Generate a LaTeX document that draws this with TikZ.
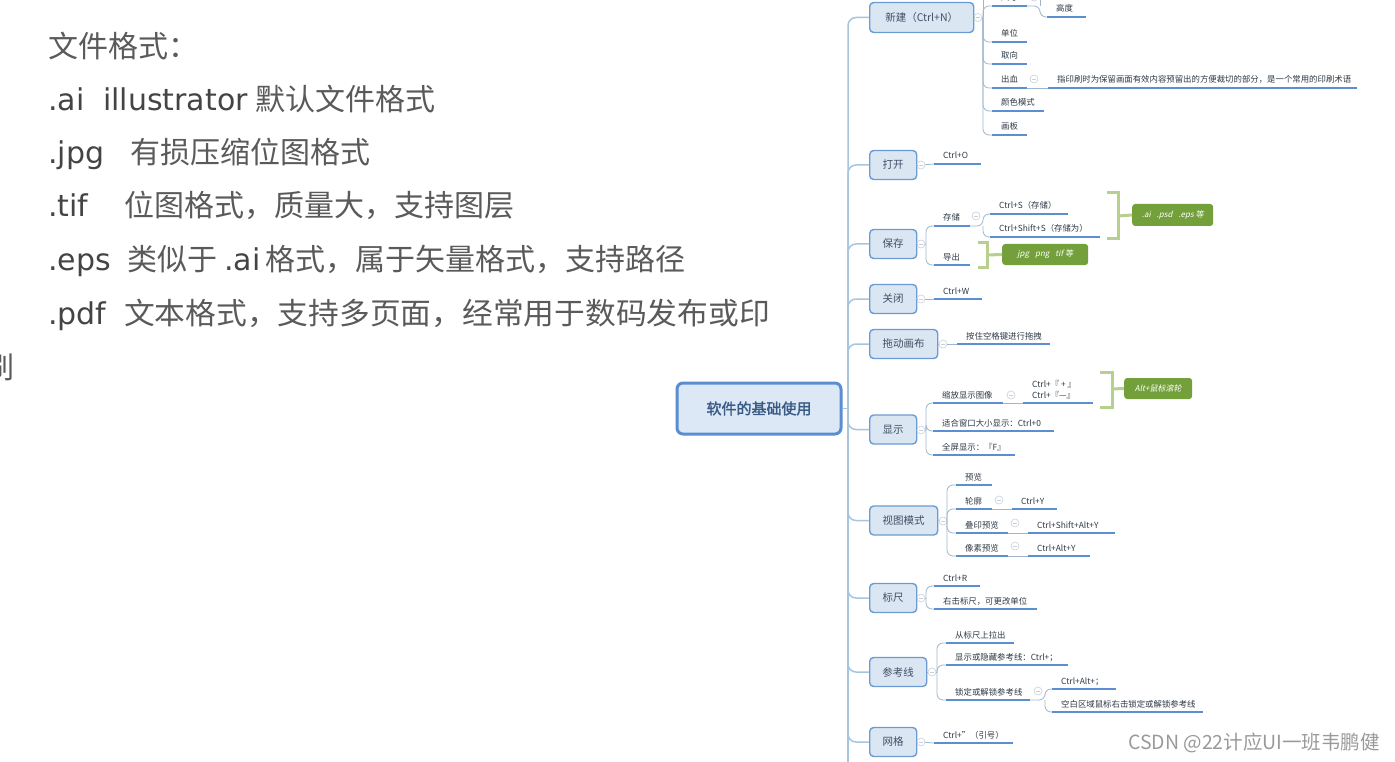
\documentclass[tikz,border=0pt]{standalone}
\usepackage{fontspec}
\setmainfont{Noto Sans CJK SC}
\newfontfamily\dejavu{DejaVu Sans}
\newfontfamily\cjkit{Noto Sans CJK SC}[FakeSlant=0.2]
\newfontfamily\cjkb{Noto Sans CJK SC}[FakeBold=2]
\definecolor{lefttext}{HTML}{5A5A5A}
\definecolor{leftlatin}{HTML}{444444}
\definecolor{boxfill}{HTML}{DBE6F3}
\definecolor{boxdraw}{HTML}{6C9BD3}
\definecolor{boxtext}{HTML}{404F63}
\definecolor{rootfill}{HTML}{DCE8F5}
\definecolor{rootdraw}{HTML}{5B8ED0}
\definecolor{roottext}{HTML}{3A5B85}
\definecolor{trunkc}{HTML}{A7C5DD}
\definecolor{connc}{HTML}{9FB6CC}
\definecolor{ulinec}{HTML}{5B8FD2}
\definecolor{maptext}{HTML}{2F3A45}
\definecolor{tagfill}{HTML}{74A03B}
\definecolor{brkc}{HTML}{B8D08F}
\definecolor{circdraw}{HTML}{C5D0DB}
\definecolor{wmc}{HTML}{9A9A9A}
\newcommand\leaf[5]{%
  \coordinate (#1-l) at (#2,#4);
  \coordinate (#1-r) at (#3,#4);
  \node[lf] (#1) at (#2+9,#4-5) {#5};
  \draw[uline] (#1-l) -- (#1-r);
}
\begin{document}
\begin{tikzpicture}[x=1pt,y=-1pt,
  lt/.style={anchor=base west, inner sep=0, text=lefttext, font=\fontsize{30}{30}\selectfont},
  ltl/.style={anchor=base west, inner sep=0, text=leftlatin, font=\dejavu\fontsize{30}{30}\selectfont},
  bx/.style={draw=boxdraw, fill=boxfill, line width=1.4, rounded corners=4, minimum height=29, inner sep=0, text=boxtext, font=\fontsize{10.5}{12}\selectfont, anchor=west},
  rootbox/.style={draw=rootdraw, fill=rootfill, line width=3, rounded corners=6, inner sep=0, text=roottext, font=\cjkb\fontsize{15}{16}\selectfont},
  circ/.style={circle, draw=circdraw, fill=white, line width=.6, minimum size=8, inner sep=0,
    path picture={\draw[circdraw, line width=.6] ([xshift=-2.2]path picture bounding box.center) -- ([xshift=2.2]path picture bounding box.center);}},
  lf/.style={anchor=base west, inner sep=0, text=maptext, font=\fontsize{8.4}{10}\selectfont},
  uline/.style={draw=ulinec, line width=2.2},
  conn/.style={draw=connc, line width=.8, rounded corners=6},
  trunk/.style={draw=trunkc, line width=1.5, rounded corners=8},
  tag/.style={fill=tagfill, rounded corners=3, text=white, font=\cjkit\fontsize{8}{10}\selectfont, inner sep=0, anchor=west},
  brk/.style={draw=brkc, line width=3}
]
\useasboundingbox (0,0) rectangle (1395,762);
\fill[white] (0,0) rectangle (1395,762);

% ---------- left text ----------
\node[lt] (l1) at (48,58) {文件格式：};
\node[ltl] (l2a) at (48,111) {.ai};
\node[ltl] (l2b) at (103,111) {illustrator};
\node[lt] (l2c) at (255,111) {默认文件格式};
\node[ltl] (l3a) at (48,164) {.jpg};
\node[lt] (l3b) at (130,164) {有损压缩位图格式};
\node[ltl] (l4a) at (48,217) {.tif};
\node[lt] (l4b) at (124,217) {位图格式，质量大，支持图层};
\node[ltl] (l5a) at (48,270) {.eps};
\node[lt] (l5b) at (127,270) {类似于};
\node[ltl] (l5c) at (224,270) {.ai};
\node[lt] (l5d) at (265,270) {格式，属于矢量格式，支持路径};
\node[ltl] (l6a) at (48,324) {.pdf};
\node[lt] (l6b) at (124,324) {\scalebox{1.025}[1]{文本格式，支持多页面，经常用于数码发布或印}};
\node[lt] (l7) at (-16,378) {刷};

% ---------- root and branches ----------
\node[rootbox, minimum width=164, minimum height=51] (root) at (759,408.5) {软件的基础使用};
\coordinate (sp) at (848,408.5);
\coordinate (spb) at (848,775);
\draw[trunk] (root.east) -- (sp);
\draw[trunk] (sp) -- (spb);

\node[bx, minimum width=104, minimum height=30] (xj) at (869,17.5) {新建（Ctrl+N）};
\node[bx, minimum width=47] (dk) at (869,165) {打开};
\node[bx, minimum width=47] (bc) at (869,244) {保存};
\node[bx, minimum width=47] (gb) at (869,299) {关闭};
\node[bx, minimum width=68] (td) at (869,344) {拖动画布};
\node[bx, minimum width=47] (xs) at (869,429.5) {显示};
\node[bx, minimum width=68] (st) at (869,520.5) {视图模式};
\node[bx, minimum width=47] (bz) at (869,598) {标尺};
\node[bx, minimum width=57] (ck) at (869,672) {参考线};
\node[bx, minimum width=47] (wg) at (869,742) {网格};
\foreach \b in {xj,dk,bc,gb,td,xs,st,bz,ck,wg} {\draw[trunk] (sp) |- (\b.west);}

% ---------- 新建 ----------
\node[circ] (xjc) at (978,17.5) {};
\draw[conn] (xj.east) -- (xjc);
\coordinate (xjv) at (983,17.5);
\coordinate (xjtop) at (983,-20);
\draw[conn] (xjc) -- (xjv);
\leaf{n1}{992}{1027}{6}{尺寸}
\leaf{n2}{1047}{1086}{17}{高度}
\leaf{n3}{992}{1027}{42}{单位}
\leaf{n4}{992}{1027}{64}{取向}
\leaf{n5}{992}{1027}{88}{出血}
\leaf{n6}{1048}{1357}{88}{指印刷时为保留画面有效内容预留出的方便裁切的部分，是一个常用的印刷术语}
\leaf{n7}{992}{1044}{111}{颜色模式}
\leaf{n8}{992}{1027}{135}{画板}
\draw[conn] (xjtop) -- (xjv);
\foreach \c in {n1,n3,n4,n5,n7,n8} {\draw[conn] (xjv) |- (\c-l);}
\node[circ] (n1c) at (1034,-3) {};
\coordinate (n1v) at (1040,6);
\coordinate (n1top) at (1040,-20);
\draw[conn] (n1-r) -- (n1v) |- (n2-l);
\draw[conn] (n1v) -- (n1top);
\node[circ] (n5c) at (1034,79) {};
\draw[conn] (n5-r) -- (n6-l);

% ---------- 打开 ----------
\node[circ] (dkc) at (921,165) {};
\draw[conn] (dk.east) -- (dkc);
\leaf{o1}{934}{981}{164}{Ctrl+O}
\draw[conn] (dkc) -- (o1-l);

% ---------- 保存 ----------
\node[circ] (bcc) at (921,244) {};
\draw[conn] (bc.east) -- (bcc);
\coordinate (bcv) at (926,244);
\draw[conn] (bcc) -- (bcv);
\leaf{s1}{934}{970}{226}{存储}
\leaf{s2}{934}{970}{265}{导出}
\draw[conn] (bcv) |- (s1-l);
\draw[conn] (bcv) |- (s2-l);
\node[circ] (s1c) at (976,216) {};
\coordinate (s1v) at (983,226);
\leaf{s3}{990}{1068}{214}{Ctrl+S（存储）}
\leaf{s4}{990}{1100}{237}{Ctrl+Shift+S（存储为）}
\draw[conn] (s1-r) -- (s1v) |- (s3-l);
\draw[conn] (s1v) |- (s4-l);
\coordinate (b1a) at (1107,193);
\coordinate (b1b) at (1118,193);
\coordinate (b1c) at (1118,239);
\coordinate (b1d) at (1107,239);
\coordinate (b1m) at (1118,216);
\draw[brk] (b1a) -- (b1b) -- (b1c) -- (b1d);
\node[tag, minimum width=81, minimum height=22] (t1) at (1132,215) {.ai\hspace{6pt}.psd\hspace{6pt}.eps 等};
\draw[brk] (b1m) -- (t1.west);
\coordinate (b2a) at (978,243);
\coordinate (b2b) at (987,243);
\coordinate (b2c) at (987,267);
\coordinate (b2d) at (978,267);
\coordinate (b2m) at (987,255);
\draw[brk] (b2a) -- (b2b) -- (b2c) -- (b2d);
\node[tag, minimum width=86, minimum height=21] (t2) at (1002,254.5) {jpg\hspace{6pt}png\hspace{6pt}tif 等};
\draw[brk] (b2m) -- (t2.west);

% ---------- 关闭 ----------
\node[circ] (gbc) at (921,299) {};
\draw[conn] (gb.east) -- (gbc);
\leaf{c1}{934}{982}{299}{Ctrl+W}
\draw[conn] (gbc) -- (c1-l);

% ---------- 拖动画布 ----------
\node[circ] (tdc) at (943,344) {};
\draw[conn] (td.east) -- (tdc);
\leaf{d1}{957}{1050}{344}{按住空格键进行拖拽}
\draw[conn] (tdc) -- (d1-l);

% ---------- 显示 ----------
\node[circ] (xsc) at (921,430) {};
\draw[conn] (xs.east) -- (xsc);
\coordinate (xsv) at (926,430);
\draw[conn] (xsc) -- (xsv);
\leaf{x1}{933}{1003}{403}{缩放显示图像}
\leaf{x3}{933}{1054}{431}{适合窗口大小显示：Ctrl+0}
\leaf{x4}{933}{1015}{455}{全屏显示：『F』}
\draw[conn] (xsv) |- (x1-l);
\draw[conn] (xsv) |- (x3-l);
\draw[conn] (xsv) |- (x4-l);
\node[circ] (x1c) at (1011,395) {};
\leaf{x2}{1023}{1093}{403}{Ctrl+『—』}
\node[lf] (x2b) at (1032,387) {Ctrl+『 + 』};
\draw[conn] (x1-r) -- (x2-l);
\coordinate (b3a) at (1100,372);
\coordinate (b3b) at (1112,372);
\coordinate (b3c) at (1112,407);
\coordinate (b3d) at (1100,407);
\coordinate (b3m) at (1112,389);
\draw[brk] (b3a) -- (b3b) -- (b3c) -- (b3d);
\node[tag, minimum width=68, minimum height=21] (t3) at (1124,388.5) {Alt+鼠标滚轮};
\draw[brk] (b3m) -- (t3.west);

% ---------- 视图模式 ----------
\node[circ] (stc) at (943,521) {};
\draw[conn] (st.east) -- (stc);
\coordinate (stv) at (947,521);
\leaf{v1}{956}{992}{485}{预览}
\leaf{v2}{956}{992}{509}{轮廓}
\leaf{v4}{956}{1008}{533}{叠印预览}
\leaf{v6}{956}{1008}{556}{像素预览}
\foreach \c in {v1,v2,v4,v6} {\draw[conn] (stv) |- (\c-l);}
\node[circ] (v2c) at (999,500) {};
\leaf{v3}{1012}{1057}{509}{Ctrl+Y}
\draw[conn] (v2-r) -- (v3-l);
\node[circ] (v4c) at (1015,523) {};
\leaf{v5}{1028}{1115}{533}{Ctrl+Shift+Alt+Y}
\draw[conn] (v4-r) -- (v5-l);
\node[circ] (v6c) at (1015,546) {};
\leaf{v7}{1028}{1090}{556}{Ctrl+Alt+Y}
\draw[conn] (v6-r) -- (v7-l);

% ---------- 标尺 ----------
\node[circ] (bzc) at (921,598) {};
\draw[conn] (bz.east) -- (bzc);
\coordinate (bzv) at (926,598);
\draw[conn] (bzc) -- (bzv);
\leaf{r1}{934}{980}{586}{Ctrl+R}
\leaf{r2}{934}{1037}{609}{右击标尺，可更改单位}
\draw[conn] (bzv) |- (r1-l);
\draw[conn] (bzv) |- (r2-l);

% ---------- 参考线 ----------
\node[circ] (ckc) at (932,672) {};
\draw[conn] (ck.east) -- (ckc);
\coordinate (ckv) at (937,672);
\draw[conn] (ckc) -- (ckv);
\leaf{g1}{946}{1014}{643}{从标尺上拉出}
\leaf{g2}{946}{1068}{665}{显示或隐藏参考线：Ctrl+；}
\leaf{g3}{946}{1030}{700}{锁定或解锁参考线}
\foreach \c in {g1,g2,g3} {\draw[conn] (ckv) |- (\c-l);}
\node[circ] (g3c) at (1038,691) {};
\coordinate (g3v) at (1045,700);
\leaf{g4}{1052}{1116}{689}{Ctrl+Alt+；}
\leaf{g5}{1052}{1203}{712}{空白区域鼠标右击锁定或解锁参考线}
\draw[conn] (g3-r) -- (g3v) |- (g4-l);
\draw[conn] (g3v) |- (g5-l);

% ---------- 网格 ----------
\node[circ] (wgc) at (921,742) {};
\draw[conn] (wg.east) -- (wgc);
\leaf{w1}{934}{1013}{743}{Ctrl+"（引号）}
\draw[conn] (wgc) -- (w1-l);

% ---------- watermark ----------
\node[anchor=west, inner sep=0, text=wmc, font=\fontsize{19.5}{20}\selectfont] (wm) at (1128,743) {CSDN @22计应UI一班韦鹏健};
\end{tikzpicture}
\end{document}
